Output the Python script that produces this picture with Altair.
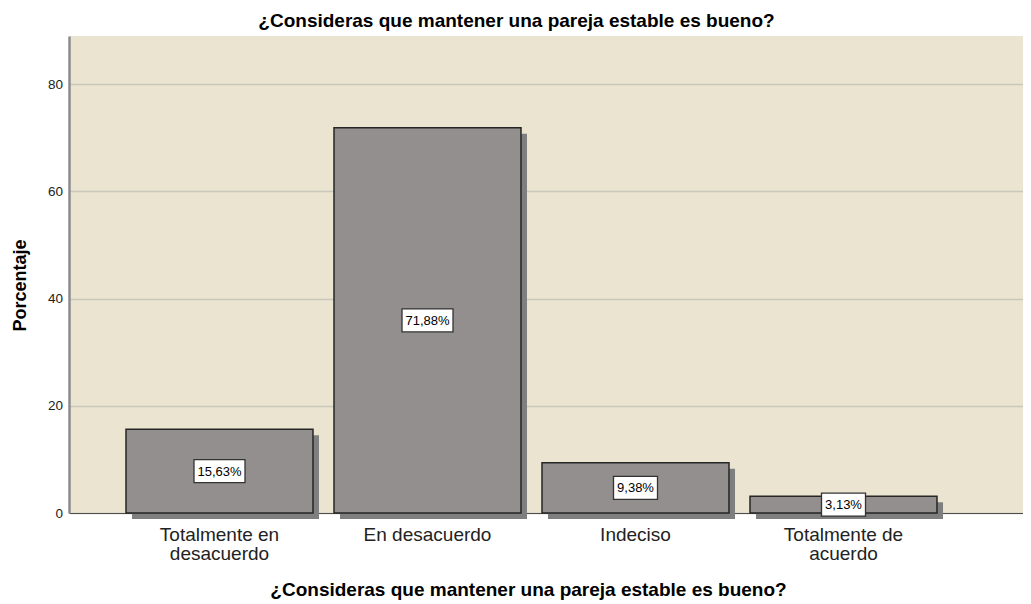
import altair as alt
import pandas as pd

# ---- data ----
categorias = ["Totalmente en\ndesacuerdo", "En desacuerdo", "Indeciso", "Totalmente de\nacuerdo"]
porcentajes = [15.63, 71.88, 9.38, 3.13]
etiquetas = ["15,63%", "71,88%", "9,38%", "3,13%"]
y_ticks = [0, 20, 40, 60, 80]
titulo = "¿Consideras que mantener una pareja estable es bueno?"
titulo_y = "Porcentaje"

df = pd.DataFrame({"cat": categorias, "pct": porcentajes, "lab": etiquetas})

FONT = "Liberation Sans"

xscale = alt.Scale(domain=categorias, paddingInner=0.101, paddingOuter=0.34375, align=0.3986)
yscale = alt.Scale(domain=[0, 89], nice=False, zero=True)

xaxis = alt.Axis(
    title=titulo, labelAngle=0, labelExpr="split(datum.label, '\\n')",
    labelFont=FONT, labelFontSize=19, labelLineHeight=19.5, labelPadding=12,
    labelColor="#222222", ticks=False, grid=False,
    domainColor="#4d4d4d", domainWidth=1,
    titleFont=FONT, titleFontSize=19, titleFontWeight="bold", titleColor="#000000",
    titleX=459, titleY=82, titleBaseline="alphabetic", titleAlign="center",
)
yaxis = alt.Axis(
    title=titulo_y, values=y_ticks, grid=True, gridColor="#CBC7BD", gridWidth=1.5,
    ticks=False, domainColor="#8C8C8C", domainWidth=2.5,
    labelFont=FONT, labelFontSize=13.5, labelColor="#222222", labelPadding=6.5,
    titleFont=FONT, titleFontSize=18, titleFontWeight="bold", titleColor="#000000",
    titleX=-44, titleY=249, titleBaseline="alphabetic", titleAlign="center", titleAngle=270,
)

X = alt.X("cat:N", scale=xscale, sort=categorias, axis=xaxis)

base = alt.Chart(df)

shadow = base.mark_bar(
    color="#7f7f7f", xOffset=6, x2Offset=6, yOffset=6, y2Offset=6
).encode(x=X, y=alt.Y("pct:Q", scale=yscale, axis=yaxis))

bars = base.mark_bar(
    color="#938F8E", stroke="#262626", strokeWidth=1.5
).encode(x=X, y=alt.Y("pct:Q", scale=yscale, axis=yaxis))

boxes = base.transform_calculate(
    mid="datum.pct / 2",
    bw="7 * length(datum.lab) + 9",
).transform_calculate(
    bs="datum.bw * datum.bw",
    bp="'M-1,-' + (23 / datum.bw) + 'H1V' + (23 / datum.bw) + 'H-1Z'",
).mark_point(
    filled=True, fill="white", stroke="#333333", strokeWidth=1.3, opacity=1
).encode(
    x=X,
    y=alt.Y("mid:Q", scale=yscale, axis=yaxis),
    size=alt.Size("bs:Q", scale=None, legend=None),
    shape=alt.Shape("bp:N", scale=None, legend=None),
)

texts = base.transform_calculate(
    mid="datum.pct / 2"
).mark_text(
    font=FONT, fontSize=13, color="#000000", baseline="middle", align="center", dy=0.5
).encode(
    x=X,
    y=alt.Y("mid:Q", scale=yscale, axis=yaxis),
    text="lab:N",
)

chart = alt.layer(shadow, bars, boxes, texts).properties(
    width=954,
    height=477,
    background="white",
    autosize=alt.AutoSizeParams(type="none"),
    padding={"left": 61, "top": 28, "right": 0, "bottom": 88},
    title=alt.TitleParams(
        titulo, font=FONT, fontSize=19, fontWeight="bold", color="#000000",
        anchor="middle", frame="group", dx=-29.5, dy=19.5, offset=9.5, baseline="alphabetic",
    ),
).configure_view(
    fill="#EAE4D1", strokeWidth=0
)

chart.save("out.html", embed_options={"renderer": "svg", "actions": False})
